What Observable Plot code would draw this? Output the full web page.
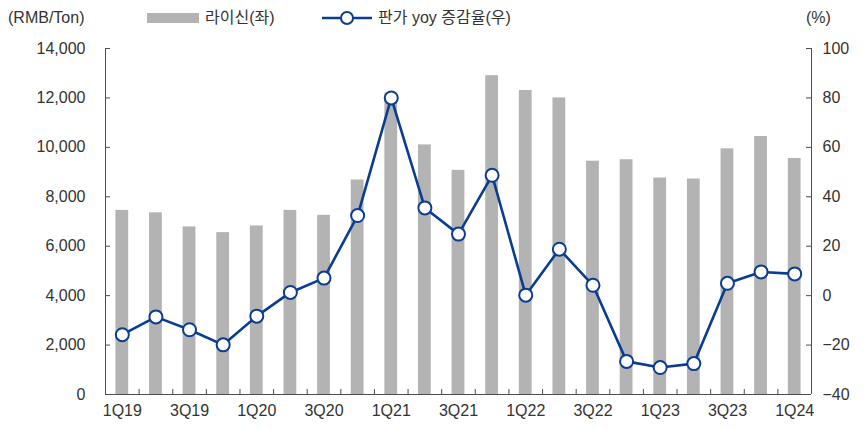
<!DOCTYPE html>
<html>
<head>
<meta charset="utf-8">
<script src="https://cdn.jsdelivr.net/npm/d3@7"></script>
<script src="https://cdn.jsdelivr.net/npm/@observablehq/plot@0.6"></script>
<style>
  body { margin: 0; background: #fff; }
  #wrap { position: relative; width: 868px; height: 430px; font-family: "Liberation Sans", "Noto Sans CJK KR", sans-serif; color: #333; }
  .lg { position: absolute; font-size: 16px; line-height: 1; white-space: nowrap; }
  svg { display: block; }
</style>
</head>
<body>
<div id="wrap">
  <div class="lg" style="left:8px; top:10px;">(RMB/Ton)</div>
  <div class="lg" style="left:147px; top:13px; width:52px; height:10px; background:#b3b3b3;"></div>
  <div class="lg" style="left:205px; top:10px;">라이신(좌)</div>
  <div class="lg" style="left:322px; top:10px;">
    <svg width="50" height="16" style="display:inline-block; vertical-align:top;">
      <line x1="0" y1="8" x2="50" y2="8" stroke="#0a3d91" stroke-width="2.5"></line>
      <circle cx="25" cy="8" r="6" fill="#fff" stroke="#0a3d91" stroke-width="2"></circle>
    </svg>
  </div>
  <div class="lg" style="left:378px; top:10px;">판가 yoy 증감율(우)</div>
  <div class="lg" style="left:806px; top:10px;">(%)</div>
  <div id="chart"></div>
</div>
<script>
const quarters = ["1Q19","2Q19","3Q19","4Q19","1Q20","2Q20","3Q20","4Q20","1Q21","2Q21","3Q21","4Q21","1Q22","2Q22","3Q22","4Q22","1Q23","2Q23","3Q23","4Q23","1Q24"];
const lysine = [7450,7350,6780,6550,6820,7450,7250,8680,12200,10100,9070,12900,12300,12000,9440,9500,8760,8720,9940,10440,9550];
const yoy = [-15.8,-8.6,-13.8,-19.9,-8.3,1.3,7.1,32.4,80,35.5,24.9,48.7,0.2,18.8,4.2,-26.6,-29.1,-27.5,5.0,9.6,8.8];
const leftTicks = [0,2000,4000,6000,8000,10000,12000,14000];
const rightTicks = [-40,-20,0,20,40,60,80,100];
const xLabels = ["1Q19","3Q19","1Q20","3Q20","1Q21","3Q21","1Q22","3Q22","1Q23","3Q23","1Q24"];

// right axis (-40..100) mapped onto the left domain (0..14000)
const toLeft = v => (v + 40) * 100;
const fromLeft = d => d / 100 - 40;

const bars = quarters.map((q, i) => ({q, v: lysine[i]}));
const pts = quarters.map((q, i) => ({q, v: toLeft(yoy[i])}));

const W = 868, H = 430, mL = 105, mR = 57, mT = 48, mB = 36;
const plotW = W - mL - mR;
const bw = plotW / quarters.length;
const axisColor = "#4d4d4d";

const chart = Plot.plot({
  width: W, height: H,
  marginLeft: mL, marginRight: mR, marginTop: mT, marginBottom: mB,
  style: {fontFamily: '"Liberation Sans", "Noto Sans CJK KR", sans-serif', fontSize: "16px", color: "#333", background: "#fff"},
  x: {type: "band", domain: quarters, paddingInner: 0.62, paddingOuter: 0.31, align: 0.5, round: false},
  y: {domain: [0, 14000]},
  marks: [
    Plot.barY(bars, {x: "q", y: "v", fill: "#b3b3b3"}),
    // axis lines
    Plot.ruleX([quarters[0]], {x: d => d, dx: -bw / 2, stroke: axisColor}),
    Plot.ruleX([quarters[quarters.length - 1]], {x: d => d, dx: bw / 2, stroke: axisColor}),
    Plot.ruleY([0], {stroke: axisColor}),
    // inward ticks
    Plot.ruleY(leftTicks, {y: d => d, insetRight: plotW - 5, stroke: axisColor}),
    Plot.ruleY(rightTicks.map(toLeft), {y: d => d, insetLeft: plotW - 5, stroke: axisColor}),
    Plot.ruleX(quarters.slice(0, -1), {x: d => d, dx: bw / 2, insetTop: H - mT - mB - 5, stroke: axisColor}),
    // line + markers
    Plot.line(pts, {x: "q", y: "v", stroke: "#0a3d91", strokeWidth: 2.6}),
    Plot.dot(pts, {x: "q", y: "v", r: 6.5, fill: "#fff", stroke: "#0a3d91", strokeWidth: 2}),
    // axes labels
    Plot.axisY({anchor: "left", ticks: leftTicks, tickSize: 0, tickPadding: 20, tickFormat: d3.format(","), label: null}),
    Plot.axisY({anchor: "right", ticks: rightTicks.map(toLeft), tickSize: 0, tickPadding: 11, tickFormat: d => String(fromLeft(d)).replace("-", "\u2212"), label: null}),
    Plot.axisX({ticks: xLabels, tickSize: 0, tickPadding: 10, label: null})
  ]
});
document.getElementById("chart").appendChild(chart);
</script>
</body>
</html>
